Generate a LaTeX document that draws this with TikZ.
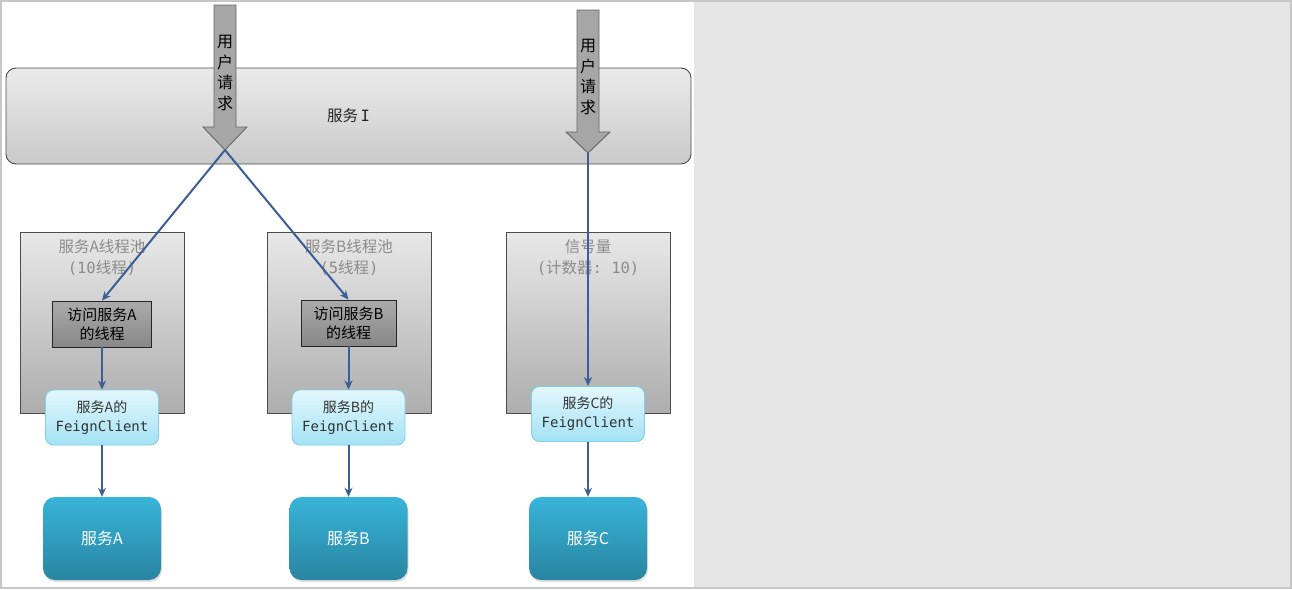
\documentclass[tikz,border=0pt]{standalone}
\usepackage{fontspec}
\setmainfont{Noto Sans CJK SC}
\newfontfamily\monofont{DejaVu Sans Mono}
\usetikzlibrary{arrows.meta,shadows}

\definecolor{linkblue}{HTML}{3B5E96}
\definecolor{feigntop}{HTML}{E3F7FC}
\definecolor{feignbot}{HTML}{A3E2F5}
\definecolor{feignline}{HTML}{80D0E8}
\definecolor{backtop}{HTML}{38B4D9}
\definecolor{backbot}{HTML}{2985A1}

\tikzset{
  servicei/.style={draw=black!70, line width=0.9pt, rounded corners=10pt, top color=black!8, bottom color=black!21,
    minimum width=685pt, minimum height=96pt, font=\fontsize{15.5}{18}\selectfont, text=black!85},
  pool/.style={draw=black!70, line width=0.9pt, top color=black!9, bottom color=black!32, minimum width=164pt, minimum height=181pt},
  pooltitle/.style={align=center, text=black!45, font=\fontsize{15.5}{21}\selectfont},
  thread/.style={draw=black!85, line width=0.9pt, top color=black!33, bottom color=black!47, minimum width=99pt, minimum height=46pt,
    align=center, inner sep=1pt, font=\fontsize{15}{19}\selectfont},
  feign/.style={draw=feignline, line width=0.9pt, rounded corners=8pt, top color=feigntop, bottom color=feignbot,
    minimum width=113pt, minimum height=55pt, align=center, inner sep=1pt, text=black!80,
    font=\fontsize{14}{19}\selectfont},
  backend/.style={rounded corners=12pt, top color=backtop, bottom color=backbot, text=white,
    minimum width=118pt, minimum height=83pt, font=\fontsize{16}{18}\selectfont,
    drop shadow={opacity=0.25, shadow xshift=1pt, shadow yshift=-2pt}},
  userarrow/.style={fill=black!35, draw=black!60, line width=0.9pt},
  link/.style={draw=linkblue, line width=2pt, -{Stealth[length=9pt,width=8pt]}}
}

\begin{document}
\begin{tikzpicture}[x=1pt,y=-1pt]
\useasboundingbox (0,0) rectangle (1292,589);

% page
\fill[black!10] (694,2) rectangle (1290,587);
\draw[black!22, line width=2pt] (1,1) rectangle (1291,588);

% service I
\node[servicei] (svcI) at (348.5,116) {服务\,{\monofont I}};

% pools
\node[pool] (poolA) at (102,322.5) {};
\node[pool] (poolB) at (349,322.5) {};
\node[pool] (poolC) at (588,322.5) {};
\node[pooltitle] (titleA) at (102,257.5) {服务A线程池\\{\monofont (10}线程{\monofont )}};
\node[pooltitle] (titleB) at (349,257.5) {服务B线程池\\{\monofont (5}线程{\monofont )}};
\node[pooltitle] (titleC) at (588,257.5) {信号量\\{\monofont (}计数器{\monofont :~10)}};

\node[thread] (thrA) at (102,324) {访问服务A\\的线程};
\node[thread, minimum width=95pt] (thrB) at (348.5,323) {访问服务B\\的线程};

\node[feign] (feignA) at (102,417.5) {服务A的\\{\monofont FeignClient}};
\node[feign] (feignB) at (348.5,417.5) {服务B的\\{\monofont FeignClient}};
\node[feign] (feignC) at (588,414) {服务C的\\{\monofont FeignClient}};

\node[backend] (svcA) at (102,538.5) {服务A};
\node[backend] (svcB) at (348.5,538.5) {服务B};
\node[backend] (svcC) at (588,538.5) {服务C};

% user requests
\draw[userarrow] (214,5) -- (236,5) -- (236,127) -- (247,127) -- (225,150) -- (203,127) -- (214,127) -- cycle;
\draw[userarrow] (577,10) -- (599,10) -- (599,132) -- (610,132) -- (588,153) -- (566,132) -- (577,132) -- cycle;
\coordinate (tipAB) at (225,150);
\coordinate (tipC) at (588,153);
\node[align=center, font=\fontsize{16}{20.5}\selectfont] (reqAB) at (225,73) {用\\户\\请\\求};
\node[align=center, font=\fontsize{16}{20.5}\selectfont] (reqC) at (588,77) {用\\户\\请\\求};

% links
\draw[link] (tipAB) -- (thrA.north);
\draw[link] (tipAB) -- (thrB.north);
\draw[link] (tipC) -- (feignC.north);
\draw[link] (thrA) -- (feignA);
\draw[link] (thrB) -- (feignB);
\draw[link] (feignA) -- (svcA);
\draw[link] (feignB) -- (svcB);
\draw[link] (feignC) -- (svcC);

\end{tikzpicture}
\end{document}
